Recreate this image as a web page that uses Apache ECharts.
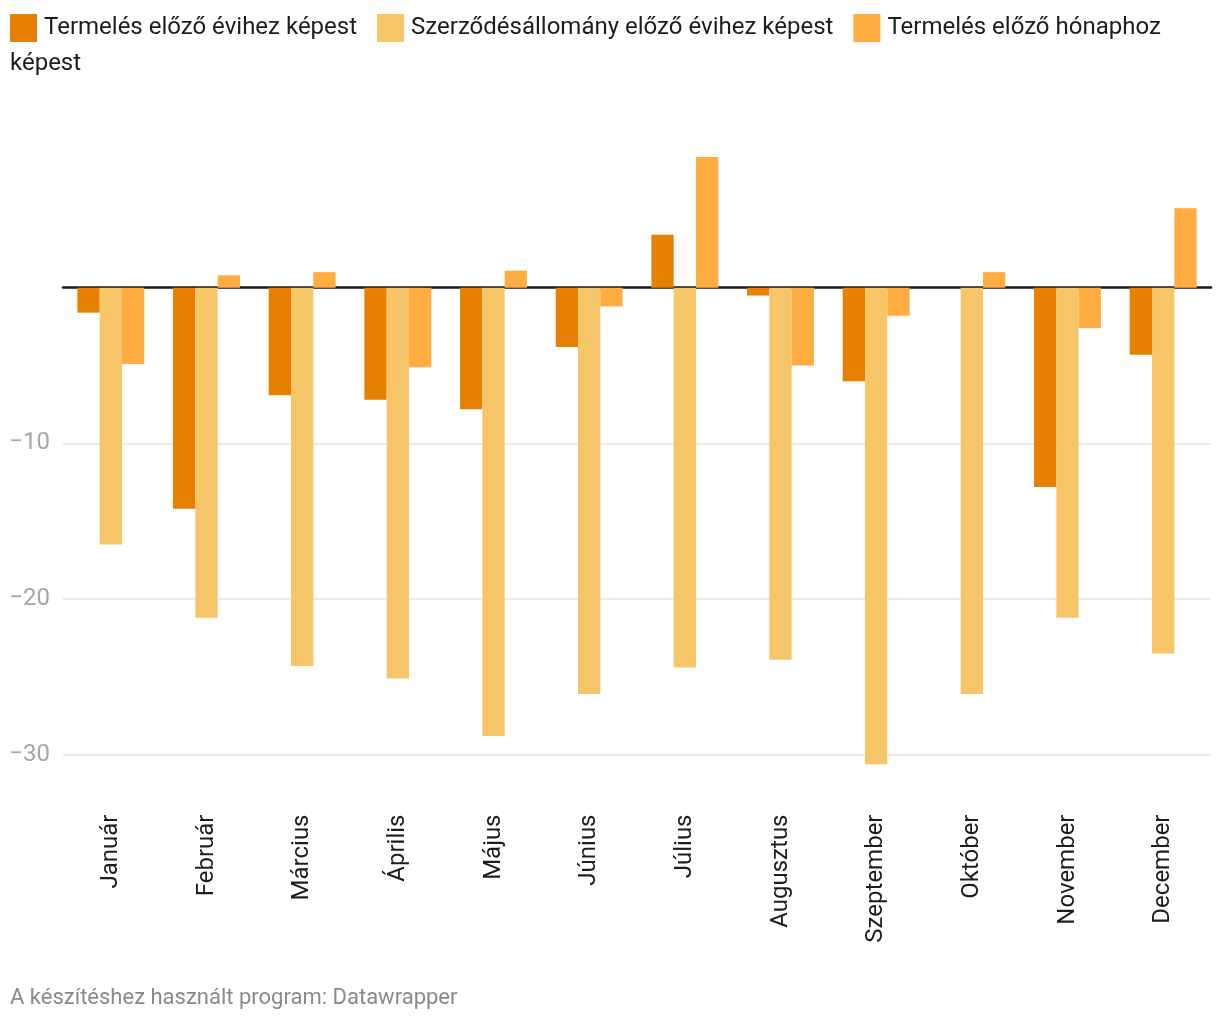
<!DOCTYPE html>
<html>
<head>
<meta charset="utf-8">
<script src="https://cdn.jsdelivr.net/npm/echarts@6/dist/echarts.min.js"></script>
<style>
  html, body { margin: 0; padding: 0; background: #ffffff; }
  #chart { width: 1220px; height: 1020px; }
</style>
</head>
<body>
<div id="chart"></div>
<script>
// ---- data ----
const categories = ['Január', 'Február', 'Március', 'Április', 'Május', 'Június',
  'Július', 'Augusztus', 'Szeptember', 'Október', 'November', 'December'];
const seriesNames = ['Termelés előző évihez képest', 'Szerződésállomány előző évihez képest', 'Termelés előző hónaphoz képest'];
const prodYoY = [-1.6, -14.2, -6.9, -7.2, -7.8, -3.8, 3.4, -0.5, -6.0, 0, -12.8, -4.3];
const ordersYoY = [-16.5, -21.2, -24.3, -25.1, -28.8, -26.1, -24.4, -23.9, -30.6, -26.1, -21.2, -23.5];
const prodMoM = [-4.9, 0.8, 1.0, -5.1, 1.1, -1.2, 8.4, -5.0, -1.8, 1.0, -2.6, 5.1];
const yTickValues = [-30, -20, -10];
const footerText = 'A készítéshez használt program: Datawrapper';

// ---- chart ----
const colors = ['#e77f00', '#f6c567', '#ffad40'];
const font = 'Roboto, "Noto Sans", sans-serif';
const chart = echarts.init(document.getElementById('chart'), null, { renderer: 'canvas' });

function fmtNum(v) {
  return (v < 0 ? '\u2212' : '') + Math.abs(v);
}

const option = {
  animation: false,
  backgroundColor: '#ffffff',
  color: colors,
  textStyle: { fontFamily: font },
  legend: {
    left: 10,
    top: 14,
    padding: 0,
    icon: 'rect',
    itemWidth: 27,
    itemHeight: 28,
    itemGap: 20,
    selectedMode: false,
    data: seriesNames,
    formatter: function (name) {
      return name === seriesNames[2] ? 'Termelés előző hónaphoz' : name;
    },
    textStyle: { fontSize: 24, color: '#1d1d1d', fontFamily: font, padding: [0, 0, 0, 2] }
  },
  graphic: [
    {
      type: 'text', left: 10, top: 52,
      style: { text: 'képest', font: '24px ' + font, fill: '#1d1d1d' }
    },
    {
      type: 'text', left: 10, top: 987,
      style: { text: footerText, font: '22px ' + font, fill: '#8a8a8a' }
    }
  ],
  grid: {
    left: 63,
    right: 9,
    top: 155.4,
    bottom: 218.5,
    containLabel: false
  },
  xAxis: [
    {
      type: 'category',
      data: categories,
      position: 'bottom',
      axisLine: { show: false, onZero: false },
      axisTick: { show: false },
      axisLabel: {
        rotate: 90,
        margin: 13,
        fontSize: 24,
        color: '#1d1d1d',
        fontFamily: font,
        interval: 0
      },
      splitLine: { show: false }
    },
    {
      type: 'category',
      data: categories,
      position: 'top',
      axisLine: { show: true, onZero: true, lineStyle: { color: '#1a1a1a', width: 2.5 } },
      axisTick: { show: false },
      axisLabel: { show: false },
      splitLine: { show: false }
    }
  ],
  yAxis: {
    type: 'value',
    min: -33,
    max: 8.5,
    axisLine: { show: false },
    axisTick: { show: false, customValues: yTickValues },
    axisLabel: {
      customValues: yTickValues,
      fontSize: 24,
      color: '#a6a6a6',
      margin: 13,
      fontFamily: font,
      formatter: fmtNum
    },
    splitLine: { show: true, lineStyle: { color: '#e5e5e5', width: 1.5 } }
  },
  series: [
    { name: seriesNames[0], type: 'bar', data: prodYoY, barWidth: 22.3, barGap: '0%', itemStyle: { color: colors[0] } },
    { name: seriesNames[1], type: 'bar', data: ordersYoY, barWidth: 22.3, barGap: '0%', itemStyle: { color: colors[1] } },
    { name: seriesNames[2], type: 'bar', data: prodMoM, barWidth: 22.3, barGap: '0%', itemStyle: { color: colors[2] } }
  ]
};
chart.setOption(option);
</script>
</body>
</html>
